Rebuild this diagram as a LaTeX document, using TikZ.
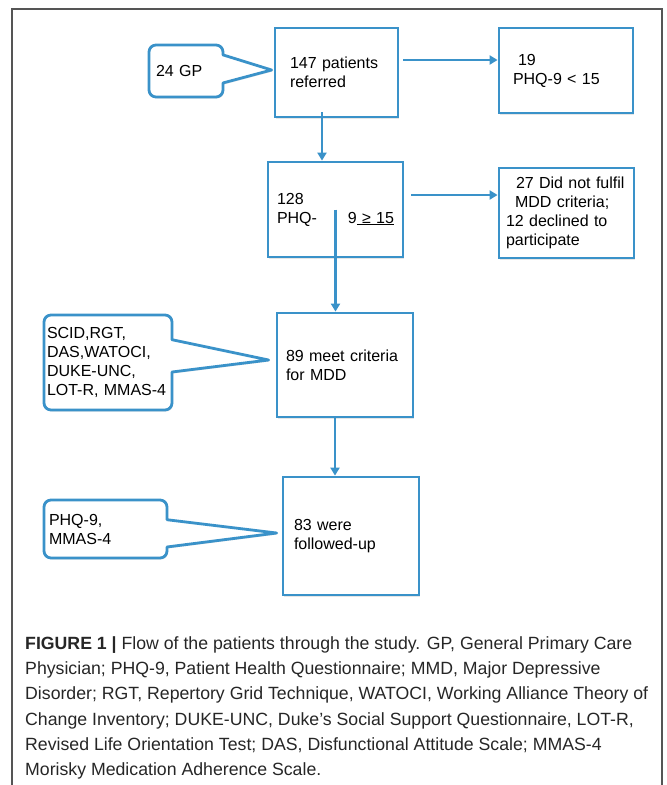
\documentclass[tikz,border=0pt]{standalone}
\usepackage{fontspec}
\setmainfont{Liberation Sans}
\usetikzlibrary{calc, arrows.meta, shadows, backgrounds}
\definecolor{flowblue}{RGB}{58,146,201}
\definecolor{framegray}{RGB}{85,85,85}

\begin{document}
\begin{tikzpicture}[x=1pt, y=-1pt,
  stage/.style={draw=flowblue, line width=2.8pt, fill=white, align=left,
    font=\fontsize{16}{19}\selectfont,
    drop shadow={shadow xshift=1pt, shadow yshift=-1.5pt, opacity=0.2}},
  note/.style={inner ysep=0pt, outer sep=0pt, align=left,
    font=\fontsize{16}{19}\selectfont},
  balloon/.style={draw=flowblue, line width=2.8pt, fill=white, line join=round,
    drop shadow={shadow xshift=1pt, shadow yshift=-1.5pt, opacity=0.2}},
  flow/.style={draw=flowblue, line width=2.8pt, -{Triangle[length=8pt, width=9pt]}},
  ]
\useasboundingbox (0,0) rectangle (667,785);
\draw[framegray, line width=1.5pt] (12,785) -- (12,9) -- (662,9) -- (662,785);

% stages of the study
\node[stage, text width=93pt, inner xsep=15pt, minimum height=89pt] (referred) at (336.5,72.5) {147 patients\\referred};
\node[stage, text width=106pt, inner xsep=14pt, minimum height=85pt] (low) at (566,70.5) {\hspace{5pt}19\\PHQ-9 < 15};
\node[stage, text width=117pt, inner xsep=9pt, minimum height=95pt] (screened) at (335.5,209.5) {128\\PHQ-\hfill 9\underline{ ≥ 15}};
\node[stage, text width=121pt, inner xsep=7pt, minimum height=90pt] (excluded) at (566.5,213) {\hspace{10pt}27 Did not fulfil\\\hspace{9pt}MDD criteria;\\12 declined to\\participate};
\node[stage, text width=118pt, inner xsep=9pt, minimum height=104pt] (mdd) at (345,365) {89 meet criteria\\for MDD};
\node[stage, text width=114pt, inner xsep=11pt, minimum height=118pt] (followed) at (351,536) {83 were\\followed-up};

% instruments
\node[note, text width=60pt, inner xsep=7pt, minimum height=52pt] (gp) at (186,71) {24 GP};
\node[note, text width=122pt, inner xsep=3pt, minimum height=95pt] (tools) at (108,362.5) {SCID,RGT,\\DAS,WATOCI,\\DUKE-UNC,\\LOT-R, MMAS-4};
\node[note, text width=113pt, inner xsep=5pt, minimum height=58pt] (phq) at (105.5,529) {PHQ-9,\\MMAS-4};

\begin{scope}[on background layer]
\draw[balloon] ([xshift=-2pt,yshift=2.5pt]referred.west) -- ($(gp.north east)!0.19!(gp.south east)$)
  [rounded corners=7pt] -- (gp.north east) -- (gp.north west) -- (gp.south west) -- (gp.south east)
  [sharp corners] -- ($(gp.north east)!0.73!(gp.south east)$) -- cycle;
\draw[balloon] ([xshift=-7pt,yshift=5pt]mdd.west) -- ($(tools.north east)!0.26!(tools.south east)$)
  [rounded corners=7pt] -- (tools.north east) -- (tools.north west) -- (tools.south west) -- (tools.south east)
  [sharp corners] -- ($(tools.north east)!0.6!(tools.south east)$) -- cycle;
\draw[balloon] ([xshift=-5pt,yshift=3pt]followed.west) -- ($(phq.north east)!0.34!(phq.south east)$)
  [rounded corners=7pt] -- (phq.north east) -- (phq.north west) -- (phq.south west) -- (phq.south east)
  [sharp corners] -- ($(phq.north east)!0.81!(phq.south east)$) -- cycle;
\end{scope}

% connectors
\draw[flow] ([xshift=4pt,yshift=12.5pt]referred.east) -- ([yshift=10.5pt]low.west);
\coordinate (a1) at ([xshift=-14.5pt,yshift=6pt]referred.south);
\draw[flow] (a1) -- (a1 |- screened.north);
\draw[flow] ([xshift=7pt,yshift=14.5pt]screened.east) -- ([yshift=18pt]excluded.west);
\draw[flow] (screened.center) -- (screened.center |- mdd.north);
\coordinate (a2) at ([xshift=-10pt,yshift=2pt]mdd.south);
\draw[flow] (a2) -- (a2 |- followed.north);

% caption
\node[anchor=north west, inner sep=0pt, align=left, text=black!85,
  font=\fontsize{17.7}{25.2}\selectfont] (caption) at (25,636.5)
  {\textbf{FIGURE 1 |} Flow of the patients through the study. GP, General Primary Care\\
   Physician; PHQ-9, Patient Health Questionnaire; MMD, Major Depressive\\
   Disorder; RGT, Repertory Grid Technique, WATOCI, Working Alliance Theory of\\
   Change Inventory; DUKE-UNC, Duke’s Social Support Questionnaire, LOT-R,\\
   Revised Life Orientation Test; DAS, Disfunctional Attitude Scale; MMAS-4\\
   Morisky Medication Adherence Scale.};
\end{tikzpicture}
\end{document}
